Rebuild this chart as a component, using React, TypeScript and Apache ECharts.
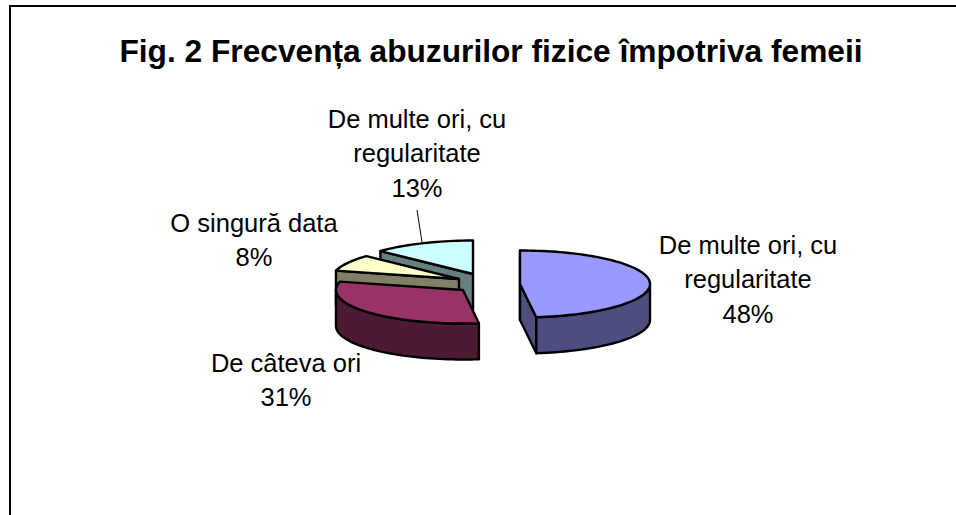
import React, { useEffect, useRef } from "react";
import * as echarts from "echarts";

const titleText = "Fig. 2 Frecvența abuzurilor fizice împotriva femeii";
const sliceNames = ["De multe ori, cu\nregularitate", "De câteva ori", "O singură data", "De multe ori, cu\nregularitate"];
const sliceValues = [48, 31, 8, 13];
const topColors = ["#9999FF", "#993366", "#FFFFCC", "#CCFFFF"];
const sideColors = ["#4D4D80", "#4D1A33", "#808066", "#668080"];

// layout of the exploded tilted pie
const radiusX = [130, 127, 127, 127];
const RY = 33.5;
const DEPTH = 36;
const centres = [[520, 284], [463, 290], [459, 279], [473, 274]];
const labelCentres = [[748, 279], [286, 380], [254, 240], [417, 153]];
const LABEL_LINE_HEIGHT = 34.5;

const total = sliceValues.reduce((a, b) => a + b, 0);

function App() {
  const ref = useRef<HTMLDivElement>(null);
  useEffect(() => {
    document.body.style.margin = "0";
    const chart = echarts.init(ref.current!, null, { renderer: "svg" });
    const startOf = (i: number) =>
      (sliceValues.slice(0, i).reduce((a, b) => a + b, 0) / total) * 360;
    const renderItem = (params: any, api: any) => {
      const i = params.dataIndex;
      const value = api.value(0);
      const a0 = startOf(i);
      const a1 = a0 + (value / total) * 360;
      const [cx, cy] = centres[i];
      const RX = radiusX[i];
      const pt = (deg: number, dy = 0) => {
        const r = (deg * Math.PI) / 180;
        return [cx + RX * Math.sin(r), cy - RY * Math.cos(r) + dy];
      };
      const z2 = (10 - i) * 10;
      const stroke = { stroke: "#000", lineWidth: 2.4, lineJoin: "round" };
      const children: any[] = [];
      const wall = (deg: number) =>
        children.push({
          type: "polygon",
          z2,
          shape: { points: [[cx, cy], pt(deg), pt(deg, DEPTH), [cx, cy + DEPTH]] },
          style: { fill: sideColors[i], ...stroke },
        });
      if (a0 === 0 || (a0 >= 180 && a0 < 360)) wall(a0);
      if (a1 > 0 && a1 <= 180) wall(a1);
      const from = Math.max(a0, 90);
      const to = Math.min(a1, 270);
      if (from < to) {
        const upper: number[][] = [];
        const lower: number[][] = [];
        for (let d = from; d < to; d += 2) {
          upper.push(pt(d));
          lower.unshift(pt(d, DEPTH));
        }
        upper.push(pt(to));
        lower.unshift(pt(to, DEPTH));
        children.push({
          type: "polygon",
          z2,
          shape: { points: upper.concat(lower) },
          style: { fill: sideColors[i], ...stroke },
        });
      }
      const top: number[][] = [[cx, cy]];
      for (let d = a0; d < a1; d += 2) top.push(pt(d));
      top.push(pt(a1));
      children.push({
        type: "polygon",
        z2: z2 + 1,
        shape: { points: top },
        style: { fill: topColors[i], ...stroke },
      });
      const [lx, ly] = labelCentres[i];
      children.push({
        type: "text",
        z2: 200,
        x: lx,
        y: ly,
        style: {
          text: `${sliceNames[i]}\n${Math.round((value / total) * 100)}%`,
          fill: "#000",
          font: "25.5px 'Liberation Sans', Arial, sans-serif",
          align: "center",
          verticalAlign: "middle",
          lineHeight: LABEL_LINE_HEIGHT,
        },
      });
      if (i === 3) {
        children.push({
          type: "line",
          z2: 200,
          shape: { x1: 417, y1: 210, x2: 422, y2: 242 },
          style: { stroke: "#000", lineWidth: 1 },
        });
      }
      return { type: "group", children };
    };
    chart.setOption({
      animation: false,
      backgroundColor: "#fff",
      title: {
        text: titleText,
        left: 486,
        top: 30,
        textAlign: "center",
        textStyle: {
          fontFamily: "'Liberation Sans', Arial, sans-serif",
          fontWeight: "bold",
          fontSize: 31.7,
          color: "#000",
        },
      },
      graphic: [
        {
          type: "polyline",
          silent: true,
          shape: { points: [[10, 515], [10, 6], [956, 6]] },
          style: { fill: "none", stroke: "#000", lineWidth: 2 },
        },
      ],
      series: [
        {
          type: "custom",
          coordinateSystem: "none",
          renderItem,
          data: sliceValues.map((v, i) => ({ name: sliceNames[i], value: [v] })),
        },
      ],
    });
    return () => chart.dispose();
  }, []);
  return <div ref={ref} style={{ width: 956, height: 515 }} />;
}

export default App;
